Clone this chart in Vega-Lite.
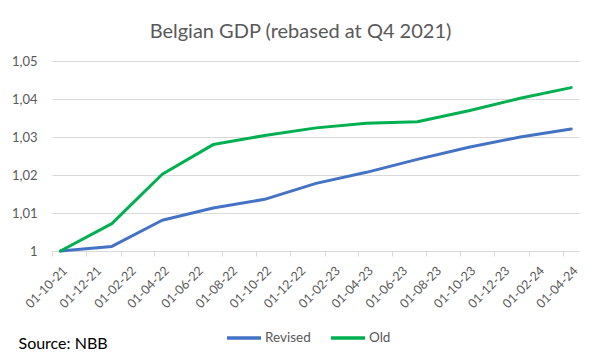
{
  "$schema": "https://vega.github.io/schema/vega-lite/v6.json",
  "autosize": {"type": "none"},
  "padding": {"left": 52, "top": 61, "right": 21, "bottom": 110},
  "width": 527,
  "height": 190,
  "background": "white",
  "title": {
    "text": "Belgian GDP (rebased at Q4 2021)",
    "font": "Lato",
    "fontSize": 20,
    "fontWeight": "normal",
    "color": "#595959",
    "anchor": "middle",
    "baseline": "alphabetic",
    "offset": -3,
    "dx": -15
  },
  "config": {
    "view": {"stroke": null},
    "font": "Lato"
  },
  "data": {
    "values": [
      {"date": "2021-10-01", "series": "Revised", "value": 1.0000},
      {"date": "2022-01-01", "series": "Revised", "value": 1.0012},
      {"date": "2022-04-01", "series": "Revised", "value": 1.0081},
      {"date": "2022-07-01", "series": "Revised", "value": 1.0113},
      {"date": "2022-10-01", "series": "Revised", "value": 1.0136},
      {"date": "2023-01-01", "series": "Revised", "value": 1.0178},
      {"date": "2023-04-01", "series": "Revised", "value": 1.0207},
      {"date": "2023-07-01", "series": "Revised", "value": 1.0241},
      {"date": "2023-10-01", "series": "Revised", "value": 1.0273},
      {"date": "2024-01-01", "series": "Revised", "value": 1.0300},
      {"date": "2024-04-01", "series": "Revised", "value": 1.0321},
      {"date": "2021-10-01", "series": "Old", "value": 1.0000},
      {"date": "2022-01-01", "series": "Old", "value": 1.0072},
      {"date": "2022-04-01", "series": "Old", "value": 1.0202},
      {"date": "2022-07-01", "series": "Old", "value": 1.0280},
      {"date": "2022-10-01", "series": "Old", "value": 1.0304},
      {"date": "2023-01-01", "series": "Old", "value": 1.0324},
      {"date": "2023-04-01", "series": "Old", "value": 1.0336},
      {"date": "2023-07-01", "series": "Old", "value": 1.0340},
      {"date": "2023-10-01", "series": "Old", "value": 1.0369},
      {"date": "2024-01-01", "series": "Old", "value": 1.0402},
      {"date": "2024-04-01", "series": "Old", "value": 1.0430}
    ]
  },
  "mark": {"type": "line", "strokeWidth": 3, "strokeCap": "round", "strokeJoin": "round"},
  "encoding": {
    "x": {
      "field": "date",
      "type": "temporal",
      "scale": {"domain": ["2021-09-16", "2024-04-15"]},
      "axis": {
        "values": ["2021-10-01","2021-12-01","2022-02-01","2022-04-01","2022-06-01","2022-08-01","2022-10-01","2022-12-01","2023-02-01","2023-04-01","2023-06-01","2023-08-01","2023-10-01","2023-12-01","2024-02-01","2024-04-01"],
        "format": "%d-%m-%y",
        "labelAngle": -45,
        "labelFontSize": 12.5,
        "labelColor": "#595959",
        "labelPadding": 8,
        "tickOffset": -8.5,
        "labelOffset": 8.5,
        "tickColor": "#d9d9d9",
        "tickSize": 5,
        "domainColor": "#d9d9d9",
        "grid": false,
        "labelOverlap": false,
        "labelBound": false,
        "title": "Source: NBB",
        "titleFont": "Lato",
        "titleFontSize": 16,
        "titleFontWeight": "normal",
        "titleColor": "#000000",
        "titleAlign": "left",
        "titleBaseline": "alphabetic",
        "titleAnchor": "start",
        "titleX": -34,
        "titleY": 97
      }
    },
    "y": {
      "field": "value",
      "type": "quantitative",
      "scale": {"domain": [1, 1.05], "nice": false, "zero": false},
      "axis": {
        "values": [1, 1.01, 1.02, 1.03, 1.04, 1.05],
        "labelExpr": "datum.value == 1 ? '1' : replace(format(datum.value, '.2f'), '.', ',')",
        "labelFontSize": 13,
        "labelColor": "#595959",
        "labelPadding": 15,
        "domain": false,
        "ticks": false,
        "gridColor": "#d9d9d9",
        "gridWidth": 1,
        "title": null
      }
    },
    "color": {
      "field": "series",
      "type": "nominal",
      "scale": {"domain": ["Revised", "Old"], "range": ["#4472C4", "#00B050"]},
      "legend": {
        "title": null,
        "orient": "none",
        "legendX": 173,
        "legendY": 258,
        "direction": "horizontal",
        "symbolType": "stroke",
        "symbolSize": 1156,
        "symbolStrokeWidth": 3.5,
        "labelFontSize": 13.5,
        "labelColor": "#595959",
        "labelOffset": 2,
        "columnPadding": 13
      }
    }
  }
}
